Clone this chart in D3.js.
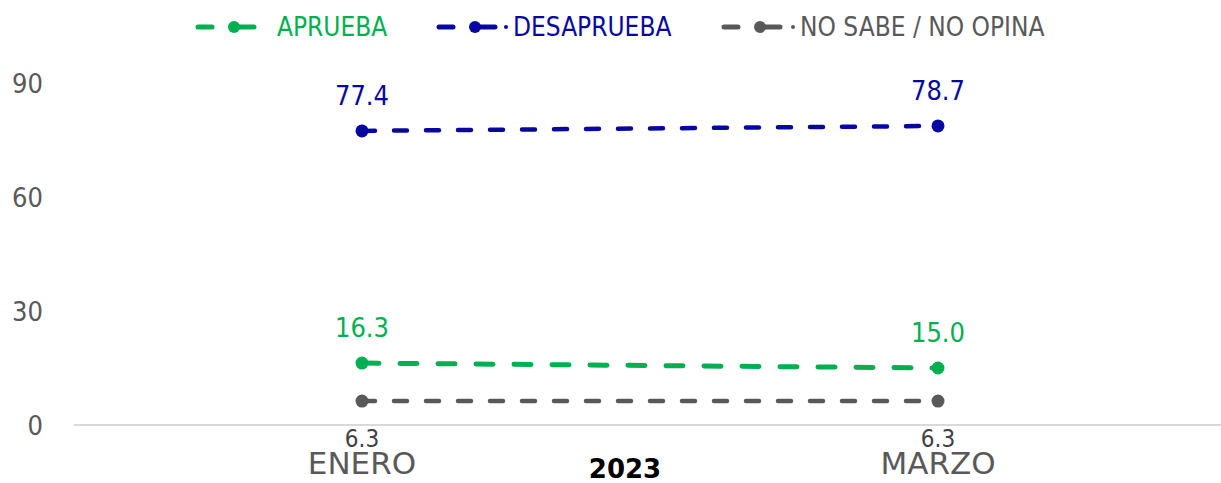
<!DOCTYPE html>
<html>
<head>
<meta charset="utf-8">
<script src="https://cdn.jsdelivr.net/npm/d3@7"></script>
<style>
  body { margin: 0; background: #fff; }
  svg text { font-family: "DejaVu Sans Condensed", "DejaVu Sans", sans-serif; font-stretch: condensed; }
</style>
</head>
<body>
<div id="chart"></div>
<script>
var categories = ["ENERO", "MARZO"];
var aprueba = [16.3, 15.0];
var desaprueba = [77.4, 78.7];
var noSabe = [6.3, 6.3];
var yTicks = [0, 30, 60, 90];
var yearLabel = "2023";

var w = 1221;
var h = 483;

var series = [
    { name: "APRUEBA", values: aprueba, color: "#00B050", width: 5, dash: "17,21", labelPos: "above", labelColor: "#00B050" },
    { name: "DESAPRUEBA", values: desaprueba, color: "#0808A0", width: 4.5, dash: "13,19", labelPos: "above", labelColor: "#0808A0" },
    { name: "NO SABE / NO OPINA", values: noSabe, color: "#595959", width: 4.5, dash: "13,19", labelPos: "below", labelColor: "#404040" }
];

var svg = d3.select("#chart")
    .append("svg")
    .attr("width", w)
    .attr("height", h);

var x = d3.scaleBand()
    .domain(categories)
    .range([74, 1226]);

var y = d3.scaleLinear()
    .domain([0, 90])
    .range([425, 83]);

function cx(c) { return x(c) + x.bandwidth() / 2; }

// y tick labels
svg.selectAll(".ytick")
    .data(yTicks)
    .enter()
    .append("text")
    .attr("class", "ytick")
    .attr("x", 43)
    .attr("y", function(d) { return y(d); })
    .attr("dy", "0.36em")
    .attr("text-anchor", "end")
    .attr("font-size", "27px")
    .attr("fill", "#595959")
    .text(function(d) { return d; });

// zero axis line
svg.append("line")
    .attr("x1", 74)
    .attr("x2", w)
    .attr("y1", y(0))
    .attr("y2", y(0))
    .attr("stroke", "#d9d9d9")
    .attr("stroke-width", 2);

// category labels
svg.selectAll(".xcat")
    .data(categories)
    .enter()
    .append("text")
    .attr("class", "xcat")
    .attr("x", function(d) { return cx(d); })
    .attr("y", 474)
    .attr("text-anchor", "middle")
    .attr("font-size", "31px")
    .style("font-stretch", "normal")
    .style("font-family", "'DejaVu Sans', sans-serif")
    .attr("fill", "#595959")
    .text(function(d) { return d; });

svg.append("text")
    .attr("x", 625)
    .attr("y", 478)
    .attr("text-anchor", "middle")
    .attr("font-size", "26px")
    .attr("font-weight", "bold")
    .style("font-stretch", "normal")
    .style("font-family", "'DejaVu Sans', sans-serif")
    .attr("fill", "#000")
    .text(yearLabel);

var line = d3.line()
    .x(function(d, i) { return cx(categories[i]); })
    .y(function(d) { return y(d); });

series.forEach(function(s) {
    var g = svg.append("g");

    g.append("path")
        .datum(s.values)
        .attr("d", line)
        .attr("fill", "none")
        .attr("stroke", s.color)
        .attr("stroke-width", s.width)
        .attr("stroke-linecap", "round")
        .attr("stroke-dasharray", s.dash);

    g.selectAll("circle")
        .data(s.values)
        .enter()
        .append("circle")
        .attr("cx", function(d, i) { return cx(categories[i]); })
        .attr("cy", function(d) { return y(d); })
        .attr("r", 6.5)
        .attr("fill", s.color);

    g.selectAll("text")
        .data(s.values)
        .enter()
        .append("text")
        .attr("x", function(d, i) { return cx(categories[i]); })
        .attr("y", function(d) {
            return s.labelPos === "above" ? y(d) - 26 : y(d) + 46;
        })
        .attr("text-anchor", "middle")
        .attr("font-size", s.labelPos === "above" ? "27px" : "24px")
        .attr("fill", s.labelColor)
        .text(function(d) { return d.toFixed(1); });
});

// legend
var legendItems = [
    { s: series[0], x: 196, tx: 277, dot: false },
    { s: series[1], x: 437, tx: 513, dot: true },
    { s: series[2], x: 722, tx: 800, dot: true }
];
var ly = 27;

legendItems.forEach(function(it) {
    var g = svg.append("g");
    g.append("line")
        .attr("x1", it.x + 2).attr("x2", it.x + 16)
        .attr("y1", ly).attr("y2", ly)
        .attr("stroke", it.s.color).attr("stroke-width", 5)
        .attr("stroke-linecap", "round");
    g.append("line")
        .attr("x1", it.x + 37).attr("x2", it.x + 58)
        .attr("y1", ly).attr("y2", ly)
        .attr("stroke", it.s.color).attr("stroke-width", 5)
        .attr("stroke-linecap", "round");
    g.append("circle")
        .attr("cx", it.x + 38).attr("cy", ly).attr("r", 6)
        .attr("fill", it.s.color);
    if (it.dot) {
        g.append("circle")
            .attr("cx", it.tx - 7).attr("cy", ly).attr("r", 2)
            .attr("fill", it.s.color);
    }
    g.append("text")
        .attr("x", it.tx)
        .attr("y", ly)
        .attr("dy", "0.36em")
        .attr("font-size", "26px")
        .attr("fill", it.s.color)
        .text(it.s.name);
});
</script>
</body>
</html>
